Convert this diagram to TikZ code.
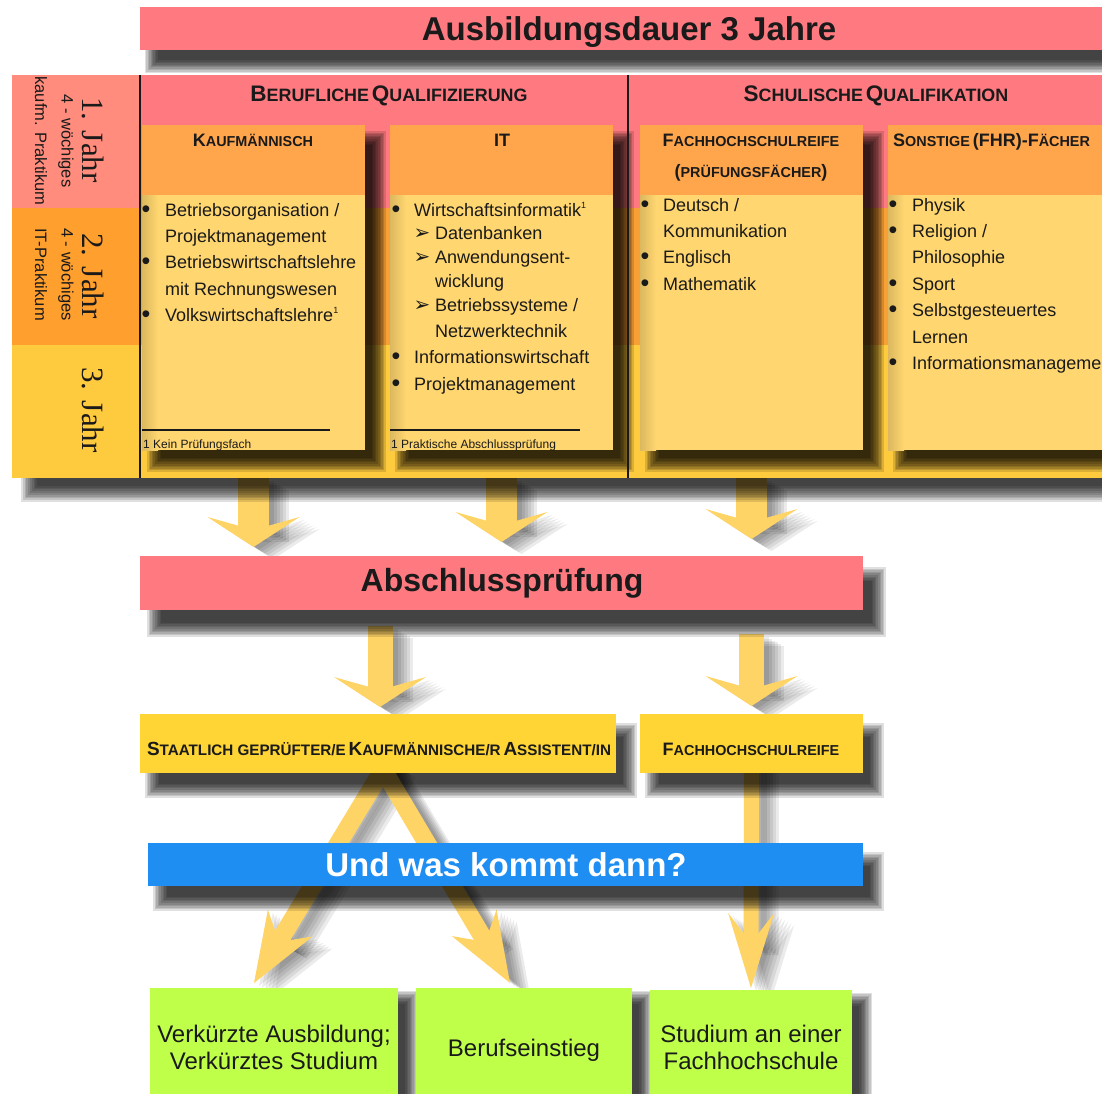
\documentclass[tikz,border=0pt]{standalone}
\usepackage{fontspec}
\setmainfont{Liberation Sans}
\newfontfamily\yrfont{Liberation Serif}
\newfontfamily\symfont{DejaVu Sans}
\usetikzlibrary{arrows.meta,calc}
\definecolor{tpink}{HTML}{FF7A80}
\definecolor{yAcol}{HTML}{FF8C7C}
\definecolor{yBcol}{HTML}{FF9F2E}
\definecolor{yCcol}{HTML}{FFCB3E}
\definecolor{bandB}{HTML}{F7A035}
\definecolor{phead}{HTML}{FFA64D}
\definecolor{pbody}{HTML}{FFD66F}
\definecolor{gold}{HTML}{FFD435}
\definecolor{arrcol}{HTML}{FFD466}
\definecolor{bluebar}{HTML}{1E8EF3}
\definecolor{lgreen}{HTML}{BFFF4A}
\definecolor{txt}{HTML}{1A1A1A}
\pgfdeclarelayer{bg}
\pgfdeclarelayer{arrsh}
\pgfdeclarelayer{arr}
\pgfdeclarelayer{boxsh}
\pgfsetlayers{bg,arrsh,arr,boxsh,main}
\newcommand\setfs[1]{\fontsize{#1}{#1}\selectfont}
\newcommand\hdB{\setfs{22.5}}\newcommand\hdS{\setfs{17.9}}
\newcommand\pnB{\setfs{18}}\newcommand\pnS{\setfs{14.4}}
\newcommand\stB{\setfs{19}}\newcommand\stS{\setfs{15.2}}
\newcommand\fnsup{\raisebox{8pt}{\setfs{9}1}}
% shadow: nw, se, dx, dy, blur, opacity
\newcommand\shrect[6]{%
 \begin{pgfonlayer}{boxsh}
 \foreach \k in {0,...,9}{
  \fill[black,opacity=#6] ($#1+({#3-#5+\k*#5*0.2},{#4-#5+\k*#5*0.2})$) rectangle ($#2+({#3+#5-\k*#5*0.2},{#4+#5-\k*#5*0.2})$);
 }
 \end{pgfonlayer}}
\newcommand\conn[3]{%
 \begin{pgfonlayer}{arrsh}
 \foreach \o in {5,8,11,14,17,20}{
  \draw[#1, draw=black, opacity=0.08, transform canvas={xshift=\o pt,yshift={-0.6*\o}}] #2 -- #3;
 }
 \end{pgfonlayer}
 \begin{pgfonlayer}{arr}\draw[#1] #2 -- #3;\end{pgfonlayer}}
\newcommand\bitem[5]{%
 \node[lst, anchor=base, font=\setfs{25}] (#1b) at (#2,#4+1) {•};
 \node[lst, anchor=base west] (#1) at (#3,#4) {#5};}
\newcommand\citem[4]{\node[lst, anchor=base west] (#1) at (#2,#3) {#4};}
\newcommand\aitem[5]{%
 \node[lst, anchor=base, font=\symfont\setfs{20}] (#1a) at (#2,#4) {➢};
 \node[lst, anchor=base west] (#1) at (#3,#4) {#5};}
\newcommand\panel[3]{% name prefix, x, header height
 \node[box, fill=phead, minimum width=223, minimum height=70] (#1h) at (#2,125) {};
 \node[box, fill=pbody, minimum width=223, minimum height=255] (#1b) at (#2,195) {};
 \shade[left color=pbody!86!black, right color=pbody] (#1b.north west) rectangle ($(#1b.south west)+(16,0)$);
 \shrect{(#1h.north west)}{(#1b.south east)}{13}{14}{8}{0.14}}
\begin{document}
\begin{tikzpicture}[x=1pt,y=-1pt,
 box/.style={rectangle, inner sep=0pt, outer sep=0pt, anchor=north west, draw=none},
 lst/.style={font=\setfs{18}, text=txt, inner sep=0pt},
 lbl/.style={text=txt, inner sep=0pt, font=\bfseries},
 bigarr/.style={draw=arrcol, line width=31pt, -{Stealth[length=30pt, width=92pt, inset=13pt, line width=0pt]}},
 midarr/.style={draw=arrcol, line width=25pt, -{Stealth[length=30pt, width=92pt, inset=13pt, line width=0pt]}},
 thinarr/.style={draw=arrcol, line width=18pt, -{Stealth[length=70pt, width=52pt, inset=22pt, line width=0pt]}},
 vthinarr/.style={draw=arrcol, line width=15pt, -{Stealth[length=75pt, width=46pt, inset=30pt, line width=0pt]}}
]
\useasboundingbox (0,0) rectangle (1102,1093);

% ---------- background block
\begin{pgfonlayer}{bg}
\fill[white] (0,0) rectangle (1102,1093);
\node[box, fill=yAcol, minimum width=128, minimum height=133] (yA) at (12,75) {};
\node[box, fill=yBcol, minimum width=128, minimum height=137] (yB) at (12,208) {};
\node[box, fill=yCcol, minimum width=128, minimum height=133] (yC) at (12,345) {};
\node[box, fill=tpink, minimum width=970, minimum height=133] (bandA) at (140,75) {};
\node[box, fill=bandB, minimum width=970, minimum height=137] (bandB) at (140,208) {};
\node[box, fill=yCcol, minimum width=970, minimum height=133] (bandC) at (140,345) {};
\end{pgfonlayer}
\begin{pgfonlayer}{boxsh}
\begin{scope}
\clip (0,478) rectangle (1102,560);
\foreach \k in {0,...,9}{
 \fill[black,opacity=0.12] ($(yA.north west)+({18-9+\k*1.8},{15-9+\k*1.8})$) rectangle ($(bandC.south east)+({18+9-\k*1.8},{15+9-\k*1.8})$);
}
\end{scope}
\end{pgfonlayer}

% ---------- title
\node[box, fill=tpink, minimum width=970, minimum height=43] (title) at (140,7) {};
\node[lbl, font=\bfseries\setfs{33}, anchor=base] (ttl) at (629,40) {Ausbildungsdauer 3 Jahre};
\shrect{(title.north west)}{(title.south east)}{12}{16}{7}{0.12}

\node[lbl, rotate=-90, font=\yrfont\setfs{31}] (jA) at (93,140) {1. Jahr};
\node[lbl, rotate=-90, font=\setfs{16.5}] (pAa) at (66,141) {4 - wöchiges};
\node[lbl, rotate=-90, font=\setfs{16.5}] (pAb) at (41,141) {kaufm. Praktikum};
\node[lbl, rotate=-90, font=\yrfont\setfs{31}] (jB) at (93,276) {2. Jahr};
\node[lbl, rotate=-90, anchor=west, font=\setfs{16.5}] (pBa) at (66,228) {4 - wöchiges};
\node[lbl, rotate=-90, anchor=west, font=\setfs{16.5}] (pBb) at (41,228) {IT-Praktikum};
\node[lbl, rotate=-90, font=\yrfont\setfs{31}] (jC) at (93,410) {3. Jahr};

\node[lbl, anchor=base] (hberuf) at (389,101) {{\hdB B}{\hdS ERUFLICHE} {\hdB Q}{\hdS UALIFIZIERUNG}};
\node[lbl, anchor=base] (hschul) at (876,101) {{\hdB S}{\hdS CHULISCHE} {\hdB Q}{\hdS UALIFIKATION}};

% ---------- panels
\panel{k}{142}{70}
\panel{it}{390}{70}
\panel{f}{640}{70}
\panel{s}{888}{70}

\node[lbl, anchor=base] (hk) at (253,146) {{\pnB K}{\pnS AUFMÄNNISCH}};
\node[lbl, anchor=base] (hit) at (502,146) {{\pnB IT}};
\node[lbl, anchor=base] (hfa) at (751,146) {{\pnB F}{\pnS ACHHOCHSCHULREIFE}};
\node[lbl, anchor=base] (hfb) at (751,177) {{\pnB (}{\pnS PRÜFUNGSFÄCHER}{\pnB )}};
\node[lbl, anchor=base west] (hs) at (893,146) {{\pnB S}{\pnS ONSTIGE} {\pnB (FHR)-F}{\pnS ÄCHER}};

\bitem{k1}{146}{165}{216}{Betriebsorganisation /}
\citem{k2}{165}{242}{Projektmanagement}
\bitem{k3}{146}{165}{268}{Betriebswirtschaftslehre}
\citem{k4}{165}{295}{mit Rechnungswesen}
\bitem{k5}{146}{165}{321}{Volkswirtschaftslehre\fnsup}

\bitem{i1}{396}{414}{216}{Wirtschaftsinformatik\fnsup}
\aitem{i2}{422}{435}{239}{Datenbanken}
\aitem{i3}{422}{435}{263}{Anwendungsent-}
\citem{i4}{435}{287}{wicklung}
\aitem{i5}{422}{435}{311}{Betriebssysteme /}
\citem{i6}{435}{337}{Netzwerktechnik}
\bitem{i7}{396}{414}{363}{Informationswirtschaft}
\bitem{i8}{396}{414}{390}{Projektmanagement}

\bitem{f1}{645}{663}{211}{Deutsch /}
\citem{f2}{663}{237}{Kommunikation}
\bitem{f3}{645}{663}{263}{Englisch}
\bitem{f4}{645}{663}{290}{Mathematik}

\bitem{s1}{893}{912}{211}{Physik}
\bitem{s2}{893}{912}{237}{Religion /}
\citem{s3}{912}{263}{Philosophie}
\bitem{s4}{893}{912}{290}{Sport}
\bitem{s5}{893}{912}{316}{Selbstgesteuertes}
\citem{s6}{912}{343}{Lernen}
\bitem{s7}{893}{912}{369}{Informationsmanagement}

\draw[line width=2pt, txt] (142,430) -- (330,430);
\draw[line width=2pt, txt] (390,430) -- (580,430);
\node[lst, anchor=base west, font=\setfs{12}] (kfn) at (143,448) {1 Kein Prüfungsfach};
\node[lst, anchor=base west, font=\setfs{12}] (ifn) at (391,448) {1 Praktische Abschlussprüfung};

\draw[line width=1.6pt, txt] (140,75) -- (140,478);
\draw[line width=1.6pt, txt] (628,75) -- (628,478);

% ---------- lower boxes
\node[box, fill=tpink, minimum width=723, minimum height=54] (abs) at (140,556) {};
\node[lbl, font=\bfseries\setfs{32}, anchor=base] (abst) at (502,591) {Abschlussprüfung};
\shrect{(abs.north west)}{(abs.south east)}{15}{19}{8}{0.12}

\node[box, fill=gold, minimum width=476, minimum height=59] (stat) at (140,714) {};
\node[lbl, anchor=base] (statt) at (379,755) {{\stB S}{\stS TAATLICH GEPRÜFTER/E} {\stB K}{\stS AUFMÄNNISCHE/R} {\stB A}{\stS SSISTENT/IN}};
\shrect{(stat.north west)}{(stat.south east)}{13}{17}{8}{0.12}

\node[box, fill=gold, minimum width=223, minimum height=59] (fhr) at (640,714) {};
\node[lbl, anchor=base] (fhrt) at (751,755) {{\pnB F}{\pnS ACHHOCHSCHULREIFE}};
\shrect{(fhr.north west)}{(fhr.south east)}{13}{17}{8}{0.12}

\node[box, fill=bluebar, minimum width=715, minimum height=43] (blue) at (148,843) {};
\node[lbl, text=white, font=\bfseries\setfs{33}, anchor=base] (bluet) at (506,876) {Und was kommt dann?};
\shrect{(blue.north west)}{(blue.south east)}{13}{17}{8}{0.12}

\node[box, fill=lgreen, minimum width=248, minimum height=112] (verk) at (150,988) {};
\node[box, fill=lgreen, minimum width=216, minimum height=112] (beruf) at (416,988) {};
\node[box, fill=lgreen, minimum width=202, minimum height=110] (stud) at (650,990) {};
\shrect{(verk.north west)}{(verk.south east)}{13}{10}{7}{0.12}
\shrect{(beruf.north west)}{(beruf.south east)}{13}{10}{7}{0.12}
\shrect{(stud.north west)}{(stud.south east)}{13}{10}{7}{0.12}
\node[lst, font=\setfs{24}, anchor=base] (verka) at (274,1042) {Verkürzte Ausbildung;};
\node[lst, font=\setfs{24}, anchor=base] (verkb) at (274,1069) {Verkürztes Studium};
\node[lst, font=\setfs{24}, anchor=base] (beruft) at (524,1056) {Berufseinstieg};
\node[lst, font=\setfs{24}, anchor=base] (studa) at (751,1042) {Studium an einer};
\node[lst, font=\setfs{24}, anchor=base] (studb) at (751,1069) {Fachhochschule};

% ---------- connectors
\conn{bigarr}{($(kb.south)+(0,28)$)}{($(kb.south |- abs.north)+(0,-9)$)}
\conn{bigarr}{($(itb.south)+(0,28)$)}{($(itb.south |- abs.north)+(0,-14)$)}
\conn{bigarr}{($(fb.south)+(0,28)$)}{($(fb.south |- abs.north)+(0,-17)$)}
\conn{midarr}{($(abs.south -| stat.north)+(2,16)$)}{($(stat.north)+(2,-7)$)}
\conn{midarr}{($(abs.south -| fhr.north)+(0,24)$)}{($(fhr.north)+(0,-8)$)}
\conn{thinarr}{($(stat.south)+(10,-12)$)}{($(verk.north)+(-20,-5)$)}
\conn{thinarr}{($(stat.south)+(0,-12)$)}{($(beruf.north)+(-14,-5)$)}
\conn{vthinarr}{($(fhr.south)+(0,-12)$)}{($(stud.north)+(0,-2)$)}
\end{tikzpicture}
\end{document}
